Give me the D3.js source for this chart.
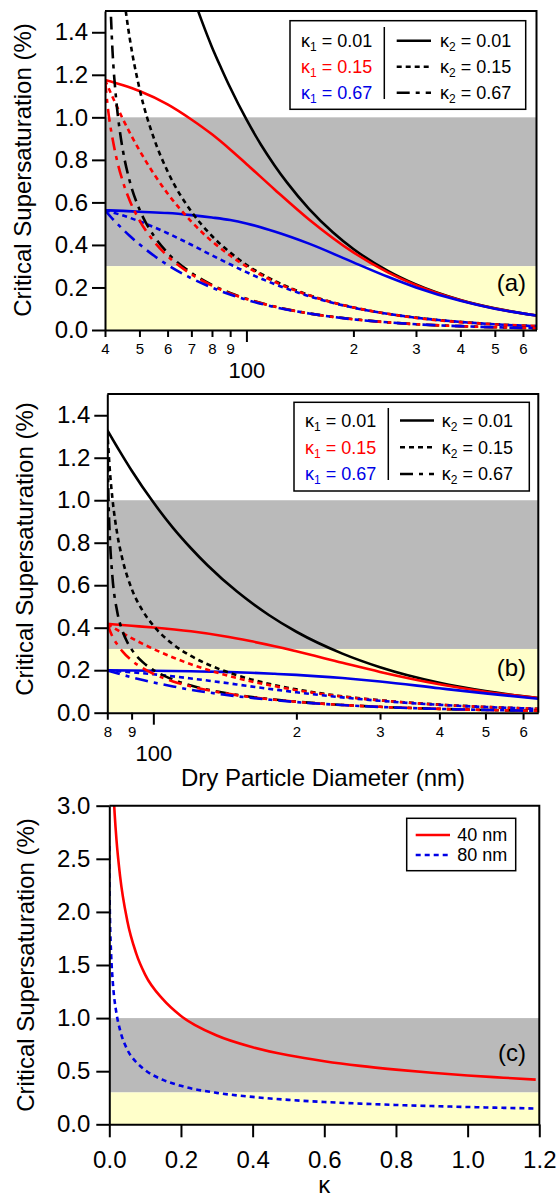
<!DOCTYPE html>
<html>
<head>
<meta charset="utf-8">
<script src="https://cdn.jsdelivr.net/npm/d3@7"></script>
<style>
body { margin: 0; background: #fff; }
svg text { font-family: "Liberation Sans", Arial, Helvetica, sans-serif; }
</style>
</head>
<body>
<svg id="chart" width="558" height="1201"></svg>
<script>
// ---- data: [dry diameter nm, critical supersaturation %] ----
// panel (a): 40 nm core
const aBlackSolid = [[65,1.75],[70,1.59],[75,1.45],[80,1.33],[85,1.23],[90,1.14],[100,0.99],[110,0.87],[120,0.774],[130,0.694],[150,0.570],[175,0.46],[200,0.381],[250,0.278],[300,0.214],[400,0.141],[500,0.102],[655,0.068]];
const aRedSolid = [[40,1.176],[45,1.151],[50,1.124],[60,1.061],[70,0.99],[80,0.92],[90,0.849],[100,0.781],[120,0.661],[150,0.520],[200,0.365],[250,0.271],[300,0.211],[400,0.140],[500,0.101],[655,0.068]];
const aBlueSolid = [[40,0.563],[45,0.56],[50,0.556],[60,0.55],[70,0.540],[80,0.529],[90,0.517],[100,0.501],[120,0.463],[150,0.406],[200,0.318],[250,0.250],[300,0.200],[400,0.137],[500,0.100],[655,0.068]];
const aBlackDot = [[44,1.753],[45,1.597],[46,1.472],[47,1.367],[50,1.136],[55,0.898],[60,0.746],[70,0.557],[80,0.442],[90,0.364],[100,0.307],[120,0.231],[150,0.164],[200,0.106],[250,0.076],[300,0.058],[400,0.038],[500,0.027],[655,0.018]];
const aRedDot = [[40,1.176],[42,1.096],[45,0.989],[50,0.845],[55,0.732],[60,0.642],[70,0.510],[80,0.417],[90,0.350],[100,0.299],[120,0.227],[150,0.163],[200,0.106],[250,0.076],[300,0.057],[400,0.037],[500,0.027],[655,0.018]];
const aBlueDot = [[40,0.563],[42,0.553],[45,0.538],[50,0.511],[55,0.483],[60,0.455],[70,0.401],[80,0.351],[90,0.309],[100,0.272],[120,0.216],[150,0.159],[200,0.105],[250,0.076],[300,0.058],[400,0.038],[500,0.027],[655,0.018]];
const aBlackDashDot = [[41,1.747],[42,1.311],[43,1.085],[44,0.94],[45,0.837],[47,0.697],[50,0.568],[55,0.441],[60,0.363],[70,0.269],[80,0.212],[90,0.174],[100,0.147],[120,0.110],[150,0.078],[200,0.051],[250,0.036],[300,0.027],[400,0.018],[500,0.013],[655,0.0085]];
const aRedDashDot = [[40,1.176],[41,1.008],[42,0.90],[43,0.815],[45,0.693],[47,0.607],[50,0.516],[55,0.415],[60,0.348],[70,0.262],[80,0.209],[90,0.172],[100,0.146],[120,0.110],[150,0.078],[200,0.0505],[250,0.036],[300,0.027],[400,0.018],[500,0.013],[655,0.0085]];
const aBlueDashDot = [[40,0.563],[42,0.523],[45,0.472],[47,0.442],[50,0.403],[55,0.349],[60,0.306],[70,0.243],[80,0.199],[90,0.167],[100,0.142],[120,0.108],[150,0.078],[200,0.050],[250,0.036],[300,0.027],[400,0.018],[500,0.013],[655,0.0085]];

// panel (b): 80 nm core
const bBlackSolid = [[80,1.33],[85,1.23],[90,1.14],[100,0.99],[110,0.87],[120,0.774],[130,0.694],[150,0.570],[175,0.46],[200,0.381],[250,0.278],[300,0.214],[400,0.141],[500,0.102],[646,0.069]];
const bRedSolid = [[80,0.418],[90,0.409],[100,0.401],[120,0.383],[140,0.361],[160,0.337],[180,0.313],[200,0.289],[250,0.235],[300,0.192],[400,0.134],[500,0.099],[646,0.069]];
const bBlueSolid = [[80,0.199],[90,0.1985],[100,0.1977],[120,0.195],[140,0.192],[160,0.188],[180,0.183],[200,0.178],[250,0.163],[300,0.147],[400,0.115],[500,0.091],[646,0.066]];
const bBlackDot = [[80,1.33],[81,1.14],[82,1.01],[84,0.838],[86,0.727],[90,0.584],[95,0.479],[100,0.41],[110,0.322],[120,0.267],[140,0.199],[160,0.158],[180,0.130],[200,0.110],[250,0.077],[300,0.0585],[400,0.038],[500,0.027],[646,0.018]];
const bRedDot = [[80,0.418],[85,0.382],[90,0.351],[95,0.324],[100,0.300],[110,0.260],[120,0.228],[140,0.181],[160,0.148],[180,0.125],[200,0.106],[250,0.076],[300,0.058],[400,0.0376],[500,0.027],[646,0.0183]];
const bBlueDot = [[80,0.199],[90,0.190],[100,0.181],[120,0.161],[140,0.142],[160,0.124],[180,0.109],[200,0.096],[250,0.072],[300,0.056],[400,0.037],[500,0.027],[646,0.018]];
const bBlackDashDot = [[80,1.33],[80.5,0.99],[81,0.824],[82,0.642],[84,0.472],[86,0.388],[88,0.335],[90,0.298],[95,0.238],[100,0.201],[110,0.156],[120,0.128],[140,0.095],[160,0.075],[180,0.062],[200,0.052],[250,0.0366],[300,0.0277],[400,0.018],[500,0.0128],[646,0.0087]];
const bRedDashDot = [[80,0.418],[82,0.359],[84,0.32],[86,0.29],[90,0.246],[95,0.210],[100,0.1835],[110,0.147],[120,0.1235],[140,0.093],[160,0.074],[180,0.061],[200,0.0517],[250,0.0365],[300,0.0277],[400,0.018],[500,0.0128],[646,0.0087]];
const bBlueDashDot = [[80,0.199],[85,0.182],[90,0.167],[95,0.154],[100,0.1425],[110,0.1235],[120,0.108],[140,0.086],[160,0.070],[180,0.059],[200,0.050],[250,0.036],[300,0.027],[400,0.018],[500,0.013],[646,0.0087]];

// panel (c): [kappa, critical supersaturation %]
const c40nm = [[0.01,3.24],[0.012,3.10],[0.015,2.92],[0.02,2.68],[0.03,2.34],[0.05,1.92],[0.075,1.61],[0.1,1.41],[0.15,1.176],[0.2,1.02],[0.3,0.836],[0.4,0.726],[0.5,0.65],[0.6,0.594],[0.7,0.55],[0.8,0.515],[0.9,0.485],[1.0,0.46],[1.1,0.439],[1.19,0.421]];
const c80nm = [[0,2.62],[0.0002,2.39],[0.0005,2.25],[0.001,2.11],[0.002,1.92],[0.005,1.61],[0.01,1.33],[0.02,1.045],[0.03,0.887],[0.05,0.705],[0.075,0.586],[0.1,0.51],[0.15,0.418],[0.2,0.362],[0.3,0.296],[0.4,0.258],[0.5,0.230],[0.6,0.210],[0.7,0.195],[0.8,0.182],[0.9,0.172],[1.0,0.163],[1.1,0.155],[1.19,0.149]];

// shaded supersaturation ranges
const grayBand = [0.3, 1.0];
const yellowBand = [0, 0.3];

// ticks
const yTicksAB = [0, 0.2, 0.4, 0.6, 0.8, 1.0, 1.2, 1.4];
const yTicksC = [0, 0.5, 1.0, 1.5, 2.0, 2.5, 3.0];
const xTicksC = [0, 0.2, 0.4, 0.6, 0.8, 1.0, 1.2];
const xMinorA = [40, 50, 60, 70, 80, 90, 200, 300, 400, 500, 600];
const xMinorB = [80, 90, 200, 300, 400, 500, 600];
const xMajor = [100];

// legends
const kappaLabels = ["0.01", "0.15", "0.67"];
const kappaColors = ["black", "red", "blue"];
const kappaDashes = ["solid", "dot", "dashdot"];
const sizeLabels = ["40 nm", "80 nm"];

const colors = { black: "#000000", red: "#ff0000", blue: "#0000e6" };
const dashes = { solid: null, dot: "5,4", dashdot: "13,6,4,6" };

const svg = d3.select("#chart");

const panels = [
  { id: "a", left: 105, right: 536.5, top: 11, bottom: 330, log: true, xDomain: [40, 655], yDomain: [0, 1.5],
    yTicks: yTicksAB, minor: xMinorA, minorPad: 6.3, majorPad: 19.9, tag: "(a)", tagY: 291, ytitleX: 31, ytitleY: 170,
    series: [
      [aBlackSolid, "black", "solid"], [aRedSolid, "red", "solid"], [aBlueSolid, "blue", "solid"],
      [aBlackDot, "black", "dot"], [aRedDot, "red", "dot"], [aBlueDot, "blue", "dot"],
      [aBlackDashDot, "black", "dashdot"], [aRedDashDot, "red", "dashdot"], [aBlueDashDot, "blue", "dashdot"]
    ] },
  { id: "b", left: 107.3, right: 538.3, top: 394, bottom: 712.7, log: true, xDomain: [80, 646], yDomain: [0, 1.5],
    yTicks: yTicksAB, minor: xMinorB, minorPad: 6.6, majorPad: 20.7, tag: "(b)", tagY: 676, ytitleX: 33, ytitleY: 549,
    series: [
      [bBlackSolid, "black", "solid"], [bRedSolid, "red", "solid"], [bBlueSolid, "blue", "solid"],
      [bBlackDot, "black", "dot"], [bRedDot, "red", "dot"], [bBlueDot, "blue", "dot"],
      [bBlackDashDot, "black", "dashdot"], [bRedDashDot, "red", "dashdot"], [bBlueDashDot, "blue", "dashdot"]
    ] },
  { id: "c", left: 109.3, right: 539.3, top: 805.7, bottom: 1124.3, log: false, xDomain: [0, 1.2], yDomain: [0, 3],
    yTicks: yTicksC, tag: "(c)", tagY: 1061, ytitleX: 34, ytitleY: 965,
    series: [[c40nm, "red", "solid"], [c80nm, "blue", "dot"]] }
];

function drawPanel(p) {
  const x = (p.log ? d3.scaleLog() : d3.scaleLinear()).domain(p.xDomain).range([p.left, p.right]);
  const y = d3.scaleLinear().domain(p.yDomain).range([p.bottom, p.top]);
  const g = svg.append("g");

  g.append("rect").attr("x", p.left).attr("width", p.right - p.left)
    .attr("y", y(grayBand[1])).attr("height", y(grayBand[0]) - y(grayBand[1])).attr("fill", "#bababa");
  g.append("rect").attr("x", p.left).attr("width", p.right - p.left)
    .attr("y", y(yellowBand[1])).attr("height", y(yellowBand[0]) - y(yellowBand[1])).attr("fill", "#ffffca");

  svg.append("clipPath").attr("id", "clip-" + p.id).append("rect")
    .attr("x", p.left).attr("y", p.top).attr("width", p.right - p.left).attr("height", p.bottom - p.top);

  const line = d3.line().x(d => x(d[0])).y(d => y(d[1])).curve(d3.curveMonotoneX);
  p.series.forEach(([data, col, dash]) => {
    g.append("path").attr("d", line(data))
      .attr("fill", "none").attr("stroke", colors[col]).attr("stroke-width", 2.6)
      .attr("stroke-dasharray", dashes[dash]).attr("clip-path", `url(#clip-${p.id})`);
  });

  // frame
  g.append("path").attr("d", `M${p.left},${p.top}H${p.right}V${p.bottom}`)
    .attr("fill", "none").attr("stroke", "#000").attr("stroke-width", 2);

  const yAxis = g.append("g").attr("transform", `translate(${p.left},0)`)
    .call(d3.axisLeft(y).tickValues(p.yTicks).tickFormat(d3.format(".1f")).tickSize(13).tickPadding(p.id === "c" ? 6 : 4).tickSizeOuter(0));
  yAxis.attr("font-size", 24);

  if (p.log) {
    const minorAx = g.append("g").attr("transform", `translate(0,${p.bottom})`)
      .call(d3.axisBottom(x).tickValues(p.minor).tickFormat(d => d < 100 ? d / 10 : d / 100).tickSize(7).tickPadding(p.minorPad).tickSizeOuter(0));
    minorAx.attr("font-size", 15);
    const majorAx = g.append("g").attr("transform", `translate(0,${p.bottom})`)
      .call(d3.axisBottom(x).tickValues(xMajor).tickFormat(d3.format("d")).tickSize(12).tickPadding(p.majorPad).tickSizeOuter(0));
    majorAx.attr("font-size", 22);
    majorAx.select(".domain").remove();
  } else {
    const xAx = g.append("g").attr("transform", `translate(0,${p.bottom})`)
      .call(d3.axisBottom(x).tickValues(xTicksC).tickFormat(d3.format(".1f")).tickSize(13).tickPadding(14).tickSizeOuter(0));
    xAx.attr("font-size", 24);
  }
  g.selectAll(".domain").attr("stroke-width", 2);
  g.selectAll(".tick line").attr("stroke-width", 2);

  g.append("text").attr("transform", `translate(${p.ytitleX},${p.ytitleY}) rotate(-90)`)
    .attr("text-anchor", "middle").attr("font-size", 24).text("Critical Supersaturation (%)");

  g.append("text").attr("x", 526).attr("y", p.tagY).attr("text-anchor", "end")
    .attr("font-size", 24).text(p.tag);
}

panels.forEach(drawPanel);

function kappaText(g, xPos, yPos, sub, value, col) {
  const t = g.append("text").attr("x", xPos).attr("y", yPos).attr("font-size", 18).attr("fill", colors[col]);
  t.append("tspan").text("\u03ba");
  t.append("tspan").attr("font-size", 12).attr("dy", 4).text(sub);
  t.append("tspan").attr("dy", -4).text(" = " + value);
}

function drawKappaLegend(L) {
  const g = svg.append("g");
  g.append("rect").attr("x", L.x0).attr("y", L.y0).attr("width", L.x1 - L.x0).attr("height", L.y1 - L.y0)
    .attr("fill", "#fff").attr("stroke", "#000").attr("stroke-width", 1.5);
  g.append("line").attr("x1", L.sep).attr("x2", L.sep).attr("y1", L.sepY[0]).attr("y2", L.sepY[1])
    .attr("stroke", "#000").attr("stroke-width", 1.5);
  kappaLabels.forEach((k, i) => {
    const cy = L.rows[i];
    kappaText(g, L.textL, cy + 6.4, "1", k, kappaColors[i]);
    g.append("line").attr("x1", L.s0).attr("x2", L.s1).attr("y1", cy).attr("y2", cy)
      .attr("stroke", "#000").attr("stroke-width", 2.6).attr("stroke-dasharray", dashes[kappaDashes[i]]);
    kappaText(g, L.textR, cy + 6.4, "2", k, "black");
  });
}

drawKappaLegend({ x0: 290, x1: 525.7, y0: 20.7, y1: 109.3, rows: [40.7, 66.7, 92.7], sep: 384.3, sepY: [27, 99], textL: 301, s0: 396.7, s1: 431, textR: 440 });
drawKappaLegend({ x0: 294, x1: 529.3, y0: 402.3, y1: 491, rows: [420.5, 447.3, 474], sep: 388.3, sepY: [408, 480], textL: 305, s0: 400, s1: 434, textR: 441.7 });

// legend (c)
const lc = svg.append("g");
lc.append("rect").attr("x", 406.7).attr("y", 818.3).attr("width", 109).attr("height", 52.4)
  .attr("fill", "#fff").attr("stroke", "#000").attr("stroke-width", 1.5);
sizeLabels.forEach((s, i) => {
  const cy = 835 + i * 20;
  lc.append("line").attr("x1", 415.7).attr("x2", 450).attr("y1", cy).attr("y2", cy)
    .attr("stroke", colors[i === 0 ? "red" : "blue"]).attr("stroke-width", 2.6)
    .attr("stroke-dasharray", dashes[i === 0 ? "solid" : "dot"]);
  lc.append("text").attr("x", 457.3).attr("y", cy + 6.4).attr("font-size", 18).text(s);
});

// x titles
svg.append("text").attr("x", 323).attr("y", 786).attr("text-anchor", "middle").attr("font-size", 24)
  .text("Dry Particle Diameter (nm)");
svg.append("text").attr("x", 324.3).attr("y", 1193).attr("text-anchor", "middle").attr("font-size", 24)
  .text("\u03ba");
</script>
</body>
</html>
